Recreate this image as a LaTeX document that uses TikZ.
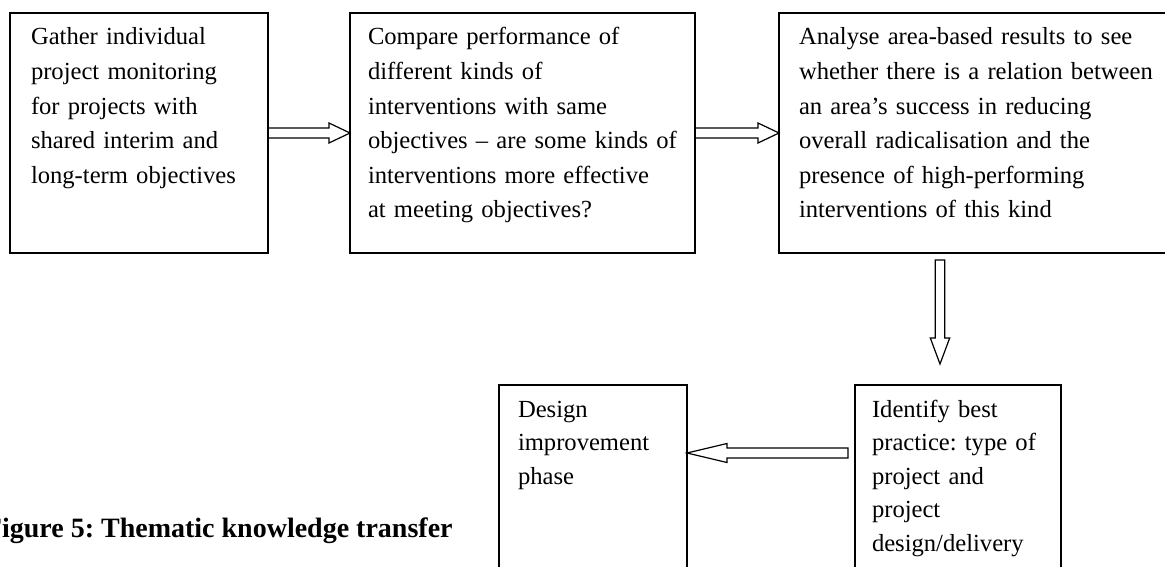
\documentclass[tikz,border=0pt]{standalone}
\usepackage{fontspec}
\setmainfont{Liberation Serif}
\usetikzlibrary{calc}
\frenchspacing

\begin{document}
\begin{tikzpicture}
  [x=1pt,y=-1pt,every node/.style={draw,rectangle,line width=1.8pt,anchor=north west,
   align=left,inner ysep=0pt,outer sep=0pt,text height=32pt,
   font=\fontsize{24.6}{34.6}\selectfont}]

  \tikzstyle{upper} = [text depth=208pt]
  \tikzstyle{lower} = [text depth=220pt,font=\fontsize{24.6}{33.6}\selectfont]
  \tikzstyle{hollow} = [line width=1.2pt,line join=miter]

  \clip (0,0) rectangle (1165,567);

  \node[upper,inner xsep=21pt,text width=216pt] (gather) at (10,13)
    {Gather individual\\project monitoring\\for projects with\\shared interim and\\long-term objectives};
  \node[upper,inner xsep=18pt,text width=309pt] (compare) at (350,13)
    {Compare performance of\\different kinds of\\interventions with same\\objectives -- are some kinds of\\interventions more effective\\at meeting objectives?};
  \node[upper,inner xsep=20pt,text width=371pt] (analyse) at (779,13)
    {Analyse area-based results to see\\whether there is a relation between\\an area’s success in reducing\\overall radicalisation and the\\presence of high-performing\\interventions of this kind};
  \node[lower,inner xsep=17pt,text width=172pt] (identify) at (855,385)
    {Identify best\\practice: type of\\project and\\project\\design/delivery};
  \node[lower,inner xsep=19pt,text width=150pt] (design) at (499,385)
    {Design\\improvement\\phase};

  \node[draw=none,anchor=base west,inner sep=0pt,
        font=\fontsize{28}{30}\selectfont\bfseries] (caption) at (-15,537)
    {Figure 5: Thematic knowledge transfer};

  \coordinate (drop) at ($(analyse.south west)+(161,7)$);
  \coordinate (land) at ($(identify.north west)+(85,-21)$);
  \coordinate (back) at ($(identify.north west)+(-7,68)$);

  % hollow arrows between the stages
  \draw[hollow] ($(gather.east)+(0,-5)$) -- ($(compare.west)+(-21,-5)$) -- ++(0,-5)
    -- (compare.west) -- ++(-21,10) -- ++(0,-5) -- ($(gather.east)+(0,5)$);
  \draw[hollow] ($(compare.east)+(0,-5)$) -- ($(analyse.west)+(-21,-5)$) -- ++(0,-5)
    -- (analyse.west) -- ++(-21,10) -- ++(0,-5) -- ($(compare.east)+(0,5)$);
  \draw[hollow] ($(drop)+(-4.7,0)$) -- ($(land)+(-4.7,-26)$) -- ++(-5,0)
    -- (land) -- ++(9.7,-26) -- ++(-5,0) -- ($(drop)+(4.7,0)$) -- cycle;
  \draw[hollow] ($(back)+(0,-5)$) -- ($(design.north east)+(40,63)$) -- ++(0,-4.5)
    -- ($(design.north east)+(0,68)$) -- ++(40,9.5) -- ++(0,-4.5) -- ($(back)+(0,5)$) -- cycle;
\end{tikzpicture}
\end{document}
